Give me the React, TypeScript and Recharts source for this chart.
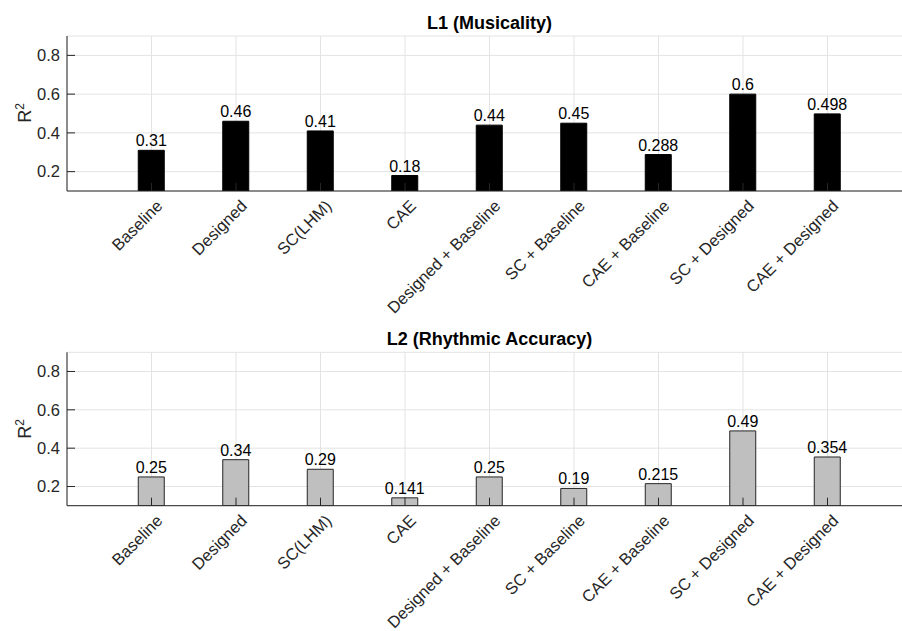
import React from 'react';
import { BarChart, Bar, XAxis, YAxis, CartesianGrid, LabelList } from 'recharts';

const categories = [
  'Baseline',
  'Designed',
  'SC(LHM)',
  'CAE',
  'Designed + Baseline',
  'SC + Baseline',
  'CAE + Baseline',
  'SC + Designed',
  'CAE + Designed',
];
const musicality = [0.31, 0.46, 0.41, 0.18, 0.44, 0.45, 0.288, 0.6, 0.498];
const rhythm = [0.25, 0.34, 0.29, 0.141, 0.25, 0.19, 0.215, 0.49, 0.354];
const yTicks = [0.2, 0.4, 0.6, 0.8];

const FONT = '"Liberation Sans", Arial, Helvetica, sans-serif';
const AX = '#262626';

const YTick = (props: any) => {
  const { x, y, payload } = props;
  return (
    <g>
      <line x1={x} y1={y} x2={x + 8} y2={y} stroke={AX} />
      <text x={x - 7} y={y} dy="0.35em" textAnchor="end" fontSize={16.5} fill={AX} fontFamily={FONT}>
        {payload.value}
      </text>
    </g>
  );
};

const XTick = (props: any) => {
  const { x, y, payload } = props;
  return (
    <g>
      <line x1={x} y1={y} x2={x} y2={y - 8} stroke={AX} />
      <text
        x={x + 8}
        y={y + 12}
        dy="0.35em"
        textAnchor="end"
        fontSize={16.5}
        fill={AX}
        fontFamily={FONT}
        transform={`rotate(-45 ${x + 8} ${y + 12})`}
      >
        {payload.value}
      </text>
    </g>
  );
};

const TopTick = (props: any) => {
  const { x, y } = props;
  return <line x1={x} y1={y} x2={x} y2={y + 8} stroke={AX} />;
};

function Panel({ values, fill, stroke, title, top, height, mTop, xH }: any) {
  const data = categories.map((name, i) => ({ name, v: values[i] }));
  return (
    <div style={{ position: 'absolute', left: 0, top, width: 914, height }}>
      <div
        style={{
          position: 'absolute',
          left: 67,
          width: 845,
          top: mTop - 22,
          textAlign: 'center',
          fontFamily: FONT,
          fontWeight: 'bold',
          fontSize: 18,
          lineHeight: '18px',
          color: '#000',
        }}
      >
        {title}
      </div>
      <div
        style={{
          position: 'absolute',
          left: 23.5,
          top: mTop + 77,
          transform: 'translate(-50%, -50%) rotate(-90deg)',
          fontFamily: FONT,
          fontSize: 18,
          color: AX,
          whiteSpace: 'nowrap',
        }}
      >
        R<sup style={{ fontSize: 12 }}>2</sup>
      </div>
      <BarChart
        width={914}
        height={height}
        data={data}
        margin={{ top: mTop, right: 2, left: 0, bottom: 0 }}
        barCategoryGap={0}
      >
        <CartesianGrid stroke="#e3e3e3" />
        <XAxis
          dataKey="name"
          interval={0}
          height={xH}
          padding={{ left: 42.25, right: 42.25 }}
          axisLine={{ stroke: AX }}
          tickLine={false}
          tickSize={0}
          tickMargin={0}
          tick={<XTick />}
        />
        <XAxis
          xAxisId="top"
          orientation="top"
          dataKey="name"
          interval={0}
          height={0}
          padding={{ left: 42.25, right: 42.25 }}
          axisLine={{ stroke: AX }}
          tickLine={false}
          tickSize={0}
          tickMargin={0}
          tick={<TopTick />}
        />
        <YAxis
          domain={[0.1, 0.9]}
          ticks={yTicks}
          allowDataOverflow
          width={67}
          axisLine={{ stroke: AX }}
          tickLine={false}
          tickSize={0}
          tickMargin={0}
          tick={<YTick />}
        />
        <Bar dataKey="v" fill={fill} stroke={stroke} barSize={26} isAnimationActive={false}>
          <LabelList dataKey="v" position="top" offset={4} fill="#000" fontSize={16} fontFamily={FONT} />
        </Bar>
      </BarChart>
    </div>
  );
}

export default function App() {
  return (
    <div
      style={{
        position: 'absolute',
        left: 0,
        top: 0,
        width: 902,
        height: 631,
        overflow: 'hidden',
        background: '#fff',
      }}
    >
      <Panel values={musicality} fill="#000000" stroke="#000000" title="L1 (Musicality)" top={0} height={320} mTop={36} xH={129} />
      <Panel values={rhythm} fill="#bfbfbf" stroke="#262626" title="L2 (Rhythmic Accuracy)" top={316} height={315} mTop={36.3} xH={125.3} />
    </div>
  );
}
